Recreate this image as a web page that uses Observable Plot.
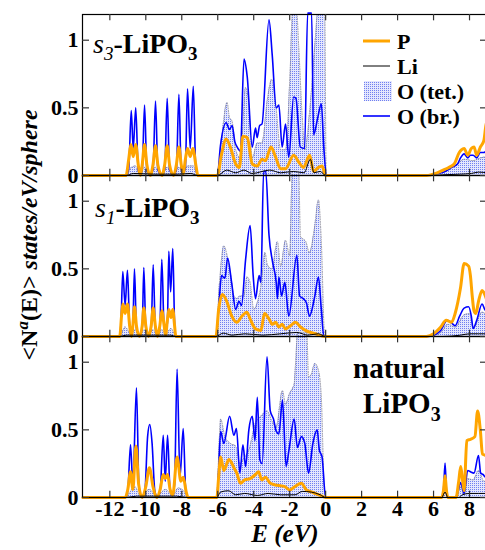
<!DOCTYPE html>
<html><head><meta charset="utf-8">
<script src="https://cdn.jsdelivr.net/npm/d3@7"></script>
<script src="https://cdn.jsdelivr.net/npm/@observablehq/plot@0.6"></script>
<style>body{margin:0;background:#fff;overflow:hidden}</style>
</head><body><div id="chart"></div>
<script>
const panels = ["s3", "s1", "natural"];
const xTicks = [-12, -10, -8, -6, -4, -2, 0, 2, 4, 6, 8];
const yTicks = [0, 0.5, 1];
const legendLabels = ["P", "Li", "O (tet.)", "O (br.)"];

// ---- panel s3 ----
const s3_Obr = [[-13.5,0],[-11.1,0],[-10.95,0.05],[-10.81,0.48],[-10.7,0.2],[-10.56,0.5],[-10.42,0.04],[-10.3,0.01],[-10.2,0.04],[-10.07,0.52],[-9.94,0.04],[-9.75,0.01],[-9.6,0.04],[-9.46,0.55],[-9.33,0.04],[-9.1,0.01],[-8.95,0.04],[-8.81,0.57],[-8.68,0.04],[-8.45,0.01],[-8.3,0.04],[-8.16,0.6],[-8.03,0.04],[-7.92,0.02],[-7.8,0.06],[-7.68,0.64],[-7.53,0.2],[-7.36,0.66],[-7.22,0.05],[-7.1,0],[-6.02,0],[-5.85,0.22],[-5.53,0.39],[-5.35,0.34],[-5.2,0.37],[-5.05,0.25],[-4.92,0.21],[-4.74,0.18],[-4.54,0.86],[-4.36,0.73],[-4.08,0.21],[-3.9,0.35],[-3.81,0.28],[-3.67,0.37],[-3.54,0.38],[-3.15,1.15],[-2.97,0.89],[-2.75,0.5],[-2.6,0.52],[-2.42,0.21],[-2.23,0.38],[-2.05,0.135],[-1.78,0.58],[-1.65,0.57],[-1.41,0.21],[-1.17,0.2],[-1.0,1.2],[-0.78,1.2],[-0.67,0.3],[-0.45,0.42],[-0.24,0.53],[-0.1,0.2],[0.05,0],[5.6,0],[6.2,0.015],[6.58,0.025],[7.0,0.06],[7.33,0.085],[7.5,0.13],[7.7,0.16],[7.9,0.13],[8.05,0.15],[8.2,0.15],[8.4,0.13],[8.6,0.17],[8.8,0.17],[9,0.2]];
const s3_P = [[-13.5,0],[-11.1,0],[-10.95,0.12],[-10.83,0.23],[-10.7,0.14],[-10.56,0.23],[-10.42,0.08],[-10.3,0],[-10.2,0.08],[-10.07,0.23],[-9.94,0.08],[-9.75,0],[-9.6,0.08],[-9.46,0.22],[-9.33,0.08],[-9.1,0],[-8.95,0.08],[-8.81,0.22],[-8.68,0.08],[-8.45,0],[-8.3,0.08],[-8.16,0.21],[-8.03,0.08],[-7.92,0.01],[-7.8,0.12],[-7.68,0.2],[-7.53,0.14],[-7.38,0.2],[-7.22,0.08],[-7.1,0],[-6.02,0],[-5.8,0.15],[-5.53,0.27],[-5.3,0.21],[-5.0,0.085],[-4.8,0.06],[-4.6,0.29],[-4.36,0.28],[-4.08,0.085],[-3.8,0.07],[-3.54,0.12],[-3.35,0.11],[-3.04,0.21],[-2.78,0.135],[-2.5,0.05],[-2.23,0.05],[-1.78,0.15],[-1.5,0.1],[-1.23,0.06],[-0.89,0.15],[-0.67,0.03],[-0.4,0.06],[-0.2,0.07],[0,0],[5.6,0],[6.2,0.02],[6.7,0.05],[7.0,0.07],[7.15,0.085],[7.43,0.17],[7.55,0.19],[7.7,0.2],[7.9,0.15],[8.1,0.2],[8.25,0.21],[8.4,0.15],[8.6,0.21],[8.8,0.26],[8.9,0.36],[9,0.42]];
const s3_Otet = [[-13.5,0],[-11.1,0],[-10.8,0.06],[-10.56,0.07],[-10.4,0.01],[-10.07,0.06],[-9.8,0.01],[-9.46,0.06],[-9.15,0.01],[-8.81,0.06],[-8.5,0.01],[-8.16,0.06],[-7.9,0.01],[-7.68,0.07],[-7.36,0.07],[-7.1,0],[-6.02,0],[-5.8,0.25],[-5.48,0.54],[-5.35,0.43],[-5.2,0.4],[-5.0,0.19],[-4.74,0.13],[-4.45,0.65],[-4.27,0.52],[-4.08,0.13],[-3.8,0.24],[-3.54,0.24],[-3.24,0.56],[-3.0,0.71],[-2.8,0.56],[-2.5,0.19],[-2.23,0.19],[-1.95,0.85],[-1.85,1.19],[-1.6,1.19],[-1.5,0.96],[-1.3,0.43],[-1.15,0.19],[-0.87,0.5],[-0.6,0.96],[-0.45,1.19],[-0.05,1.19],[0.03,0],[5.6,0],[6.3,0.015],[6.8,0.04],[7.3,0.08],[7.7,0.12],[8.2,0.11],[8.6,0.13],[9,0.14]];
const s3_Li = [[-13.5,0],[-11.1,0],[-10.7,0.015],[-9.5,0.01],[-8.2,0.01],[-7.5,0.015],[-7.1,0],[-6.02,0],[-5.5,0.04],[-5.0,0.02],[-4.54,0.04],[-4.1,0.015],[-3.1,0.04],[-2.5,0.02],[-1.8,0.03],[-1.2,0.02],[-0.85,0.12],[-0.65,0.02],[-0.3,0.03],[0,0],[5.8,0],[6.5,0.005],[7.5,0.01],[8.1,0.015],[8.5,0.025],[9,0.02]];

// ---- panel s1 ----
const s1_Obr = [[-13.5,0],[-11.45,0],[-11.38,0.1],[-11.28,0.48],[-11.15,0.23],[-11.02,0.49],[-10.9,0.08],[-10.8,0.02],[-10.72,0.08],[-10.63,0.5],[-10.52,0.06],[-10.35,0.01],[-10.2,0.06],[-10.11,0.51],[-10.0,0.06],[-9.85,0.01],[-9.7,0.06],[-9.59,0.53],[-9.47,0.06],[-9.35,0.01],[-9.22,0.06],[-9.11,0.57],[-8.98,0.06],[-8.9,0.04],[-8.8,0.1],[-8.72,0.63],[-8.62,0.33],[-8.5,0.65],[-8.4,0.1],[-8.33,0],[-6.1,0],[-5.95,0.2],[-5.79,0.45],[-5.6,0.43],[-5.45,0.58],[-5.23,0.4],[-5.0,0.2],[-4.82,0.26],[-4.68,0.23],[-4.45,0.57],[-4.2,0.82],[-4.03,0.45],[-3.9,0.28],[-3.7,0.45],[-3.6,0.4],[-3.45,1.22],[-3.33,1.22],[-3.15,0.75],[-2.95,0.55],[-2.75,0.4],[-2.68,0.28],[-2.6,0.44],[-2.45,0.3],[-2.27,0.4],[-2.05,0.15],[-1.6,0.6],[-1.45,0.3],[-1.25,0.28],[-1.07,0.25],[-0.9,0.15],[-0.6,0.3],[-0.4,0.44],[-0.24,0.2],[-0.1,0],[5.6,0],[6.0,0.01],[6.4,0.045],[6.77,0.12],[7.0,0.1],[7.2,0.08],[7.45,0.15],[7.7,0.21],[7.95,0.22],[8.1,0.15],[8.2,0.06],[8.4,0.12],[8.7,0.24],[8.85,0.2],[9,0.18]];
const s1_P = [[-13.5,0],[-11.45,0],[-11.35,0.15],[-11.28,0.24],[-11.15,0.17],[-11.02,0.24],[-10.9,0.08],[-10.8,0],[-10.72,0.08],[-10.63,0.22],[-10.52,0.08],[-10.35,0],[-10.2,0.08],[-10.11,0.21],[-10.0,0.08],[-9.85,0],[-9.7,0.08],[-9.59,0.21],[-9.47,0.08],[-9.35,0],[-9.22,0.08],[-9.11,0.19],[-8.98,0.08],[-8.9,0.01],[-8.8,0.12],[-8.72,0.2],[-8.6,0.14],[-8.5,0.2],[-8.4,0.08],[-8.33,0],[-6.1,0],[-5.95,0.2],[-5.74,0.31],[-5.5,0.26],[-5.22,0.15],[-4.94,0.105],[-4.66,0.15],[-4.38,0.18],[-4.2,0.13],[-3.9,0.056],[-3.6,0.045],[-3.4,0.17],[-3.15,0.13],[-2.96,0.09],[-2.78,0.105],[-2.6,0.07],[-2.42,0.09],[-2.23,0.056],[-1.95,0.08],[-1.68,0.105],[-1.4,0.07],[-1.12,0.045],[-0.56,0.02],[-0.05,0],[5.6,0],[6.0,0.02],[6.4,0.07],[6.7,0.12],[7.0,0.105],[7.2,0.17],[7.5,0.36],[7.7,0.54],[7.95,0.52],[8.05,0.45],[8.15,0.3],[8.25,0.19],[8.35,0.17],[8.5,0.26],[8.7,0.34],[8.85,0.31],[9,0.25]];
const s1_Otet = [[-13.5,0],[-11.45,0],[-11.15,0.07],[-10.8,0.01],[-10.6,0.05],[-10.35,0.01],[-10.1,0.05],[-9.85,0.01],[-9.6,0.05],[-9.35,0.01],[-9.1,0.05],[-8.9,0.01],[-8.6,0.06],[-8.33,0],[-6.1,0],[-5.9,0.4],[-5.66,0.67],[-5.48,0.6],[-5.3,0.47],[-5.1,0.3],[-4.94,0.28],[-4.75,0.3],[-4.55,0.3],[-4.38,0.44],[-4.2,0.4],[-4.0,0.2],[-3.8,0.25],[-3.6,0.37],[-3.37,0.62],[-3.24,0.53],[-3.0,0.5],[-2.68,0.7],[-2.5,0.52],[-2.23,0.71],[-2.0,0.6],[-1.85,1.22],[-1.5,1.22],[-1.4,0.74],[-1.1,0.7],[-0.9,0.62],[-0.6,0.82],[-0.4,1.01],[-0.24,0.7],[-0.05,0],[5.6,0],[6.4,0.03],[6.8,0.09],[7.2,0.07],[7.7,0.16],[8.0,0.17],[8.2,0.06],[8.7,0.18],[9,0.15]];
const s1_Li = [[-13.5,0],[-11.45,0],[-11.1,0.01],[-9.5,0.01],[-8.6,0.01],[-8.33,0],[-6.1,0],[-5.7,0.025],[-5.2,0.01],[-4.5,0.02],[-3.5,0.01],[-2.5,0.02],[-1.6,0.03],[-1.0,0.01],[-0.4,0.02],[0,0],[6.5,0],[7.5,0.01],[8,0.02],[8.5,0.02],[9,0.02]];

// ---- panel natural ----
const nat_Obr = [[-13.5,0],[-11.15,0],[-11.0,0.05],[-10.85,0.39],[-10.72,0.1],[-10.52,0.81],[-10.38,0.08],[-10.2,0],[-10.05,0.05],[-9.9,0.45],[-9.78,0.54],[-9.65,0.4],[-9.5,0.05],[-9.35,0],[-9.2,0.05],[-9.03,0.46],[-8.92,0.12],[-8.79,0.46],[-8.65,0.05],[-8.5,0.02],[-8.4,0.1],[-8.26,0.95],[-8.1,0.15],[-7.92,0.51],[-7.78,0.05],[-7.65,0],[-6.05,0],[-5.95,0.2],[-5.84,0.49],[-5.66,0.4],[-5.34,0.6],[-5.1,0.46],[-4.96,0.51],[-4.77,0.18],[-4.6,0.39],[-4.45,0.23],[-4.27,0.5],[-4.08,0.6],[-3.93,0.42],[-3.8,0.74],[-3.66,0.28],[-3.53,0.25],[-3.26,1.04],[-3.08,0.64],[-2.9,0.58],[-2.75,0.49],[-2.6,0.47],[-2.4,0.72],[-2.2,0.23],[-2.04,0.35],[-1.75,0.58],[-1.57,0.37],[-1.35,0.45],[-1.16,0.4],[-0.95,0.18],[-0.71,0.4],[-0.47,0.5],[-0.35,0.35],[-0.2,0.3],[0,0],[6.45,0],[6.55,0.05],[6.64,0.255],[6.72,0.05],[6.8,0],[7.2,0],[7.35,0.04],[7.5,0.11],[7.7,0.03],[7.9,0.2],[8.05,0.19],[8.25,0.18],[8.5,0.31],[8.62,0.18],[8.75,0.17],[8.9,0.15],[9,0.17]];
const nat_P = [[-13.5,0],[-11.15,0],[-11.0,0.06],[-10.85,0.19],[-10.72,0.06],[-10.55,0.38],[-10.4,0.1],[-10.2,0],[-10.0,0.08],[-9.8,0.22],[-9.6,0.08],[-9.4,0],[-9.2,0.06],[-9.03,0.17],[-8.92,0.14],[-8.79,0.17],[-8.65,0.06],[-8.5,0.02],[-8.26,0.3],[-8.05,0.12],[-7.92,0.15],[-7.75,0.04],[-7.65,0],[-6.05,0],[-5.95,0.15],[-5.84,0.3],[-5.66,0.2],[-5.38,0.28],[-5.1,0.22],[-4.94,0.18],[-4.74,0.105],[-4.5,0.13],[-4.2,0.14],[-3.9,0.17],[-3.73,0.19],[-3.55,0.13],[-3.35,0.15],[-3.08,0.105],[-2.7,0.09],[-2.27,0.08],[-2.0,0.056],[-1.72,0.08],[-1.35,0.105],[-1.07,0.056],[-0.7,0.037],[-0.24,0.012],[0,0],[6.45,0],[6.55,0.05],[6.64,0.16],[6.72,0.05],[6.8,0],[7.25,0],[7.4,0.12],[7.51,0.23],[7.62,0.12],[7.7,0.05],[7.85,0.42],[8.05,0.43],[8.3,0.45],[8.45,0.64],[8.6,0.5],[8.72,0.32],[8.9,0.31],[9,0.29]];
const nat_Otet = [[-13.5,0],[-11.15,0],[-10.6,0.08],[-10.3,0.01],[-9.8,0.06],[-9.4,0.01],[-8.9,0.06],[-8.5,0.01],[-8.2,0.07],[-7.9,0.05],[-7.65,0],[-6.05,0],[-5.95,0.3],[-5.84,0.58],[-5.6,0.45],[-5.3,0.4],[-5.0,0.38],[-4.77,0.25],[-4.5,0.3],[-4.27,0.35],[-3.9,0.55],[-3.6,0.6],[-3.26,0.64],[-3.0,0.57],[-2.75,0.52],[-2.4,0.79],[-2.23,0.69],[-2.0,0.77],[-1.75,0.84],[-1.55,1.22],[-1.05,1.22],[-0.95,0.89],[-0.8,0.91],[-0.6,0.99],[-0.4,0.94],[-0.24,0.74],[-0.05,0],[6.45,0],[6.64,0.04],[6.8,0],[7.3,0],[7.5,0.08],[7.7,0.02],[7.9,0.14],[8.2,0.13],[8.5,0.2],[8.8,0.12],[9,0.12]];
const nat_Li = [[-13.5,0],[-11.15,0],[-10.5,0.01],[-8.3,0.01],[-7.65,0],[-6.05,0],[-5.85,0.04],[-5.4,0.05],[-5.0,0.02],[-4.5,0.03],[-3.8,0.015],[-3.2,0.03],[-2.5,0.02],[-1.7,0.02],[-1.3,0.045],[-0.8,0.04],[-0.3,0.02],[0,0],[6.45,0],[6.64,0.04],[6.8,0],[7.4,0],[7.6,0.02],[8,0.03],[8.5,0.03],[9,0.03]];

// build a tidy table from the arrays
const sources = [
  ["s3", "P", s3_P], ["s3", "Li", s3_Li], ["s3", "Otet", s3_Otet], ["s3", "Obr", s3_Obr],
  ["s1", "P", s1_P], ["s1", "Li", s1_Li], ["s1", "Otet", s1_Otet], ["s1", "Obr", s1_Obr],
  ["natural", "P", nat_P], ["natural", "Li", nat_Li], ["natural", "Otet", nat_Otet], ["natural", "Obr", nat_Obr]
];
const rows = [];
for (const [panel, series, arr] of sources) for (const [E, v] of arr) rows.push({panel, series, E, v});
const sel = s => rows.filter(d => d.series === s);

const W = 485, H = 550, mL = 82, mR = -2, mT = 13, mB = 52;
const facetH = (H - mT - mB) / 3, plotW = W - mL - mR;
const serif = "'Liberation Serif', 'Times New Roman', serif";

const chart = Plot.plot({
  width: W, height: H,
  marginLeft: mL, marginRight: mR, marginTop: mT, marginBottom: mB,
  style: {fontFamily: serif, fontSize: "22px", fontWeight: "bold", background: "white", color: "black", overflow: "visible"},
  x: {domain: [-13.52, 9]},
  y: {domain: [0, 1.19]},
  fy: {domain: panels, padding: 0, axis: null},
  marks: [
    Plot.areaY(sel("Otet"), {x: "E", y: "v", fy: "panel", fill: "url(#stip)", curve: "monotone-x"}),
    Plot.lineY(sel("Otet"), {x: "E", y: "v", fy: "panel", stroke: "#8a8a9a", strokeWidth: 0.9, strokeDasharray: "1,1.5", curve: "monotone-x"}),
    Plot.lineY(sel("Obr"), {x: "E", y: "v", fy: "panel", stroke: "#0000ff", strokeWidth: 1.6, curve: "monotone-x"}),
    Plot.lineY(sel("P"), {x: "E", y: "v", fy: "panel", stroke: "#ffa500", strokeWidth: 3, curve: "monotone-x"}),
    Plot.lineY(sel("Li"), {x: "E", y: "v", fy: "panel", stroke: "#000", strokeWidth: 1, curve: "monotone-x"}),
    Plot.frame({stroke: "black", strokeWidth: 1.2}),
    Plot.tickX(xTicks, {x: d => d, insetTop: facetH - 7, stroke: "#333", strokeWidth: 1.2}),
    Plot.tickX(xTicks, {x: d => d, insetBottom: facetH - 7, stroke: "#333", strokeWidth: 1.2}),
    Plot.tickY(yTicks, {y: d => d, insetRight: plotW - 7, stroke: "#333", strokeWidth: 1.2}),
    Plot.tickY(yTicks, {y: d => d, insetLeft: plotW - 7, stroke: "#333", strokeWidth: 1.2}),
    Plot.axisY({ticks: yTicks, tickFormat: d => String(d), tickSize: 0, tickPadding: 4, label: null, anchor: "left"}),
    Plot.axisX({ticks: xTicks, tickFormat: d => String(d), tickSize: 0, tickPadding: 3, label: null, anchor: "bottom"})
  ]
});
document.getElementById("chart").appendChild(chart);

const svg = d3.select(chart);
const defs = svg.insert("defs", ":first-child");
const pat = defs.append("pattern").attr("id", "stip").attr("patternUnits", "userSpaceOnUse").attr("width", 2).attr("height", 2);
pat.append("rect").attr("width", 2).attr("height", 2).attr("fill", "#e4e7fd");
pat.append("rect").attr("width", 1).attr("height", 1).attr("fill", "#7080f0");

function rich(x, y, size, parts, anchor) {
  const t = svg.append("text").attr("x", x).attr("y", y).attr("font-family", serif).attr("font-size", size)
    .attr("font-weight", "bold").attr("fill", "black").attr("text-anchor", anchor || "start");
  for (const p of parts) {
    const s = t.append("tspan").text(p.t);
    if (p.italic) s.attr("font-style", "italic");
    if (p.normal) s.attr("font-weight", "normal");
    if (p.size) s.attr("font-size", p.size);
    if (p.dy) s.attr("dy", p.dy);
  }
  return t;
}
// panel labels
rich(93, 53, 28, [{t: "s", italic: true, normal: true}, {t: "3", italic: true, normal: true, size: 19, dy: 7}, {t: "-LiPO", dy: -7}, {t: "3", size: 19, dy: 7}]);
rich(95, 217, 28, [{t: "s", italic: true, normal: true}, {t: "1", italic: true, normal: true, size: 19, dy: 7}, {t: "-LiPO", dy: -7}, {t: "3", size: 19, dy: 7}]);
rich(353, 378, 29, [{t: "natural"}]);
rich(363, 413, 29, [{t: "LiPO"}, {t: "3", size: 20, dy: 8}]);

// axis titles
rich(285, 542, 25, [{t: "E (eV)", italic: true}], "middle");
rich(0, 0, 24, [{t: "<N"}, {t: "a", italic: true, size: 17, dy: -9}, {t: "(E)>", dy: 9}, {t: " states/eV/sphere", italic: true}], "middle")
  .attr("transform", "translate(37,235) rotate(-90)");

// legend
const lg = svg.append("g");
const ly = [41, 66, 91, 116];
lg.append("line").attr("x1", 363).attr("x2", 390).attr("y1", ly[0]).attr("y2", ly[0]).attr("stroke", "#ffa500").attr("stroke-width", 3);
lg.append("line").attr("x1", 363).attr("x2", 390).attr("y1", ly[1]).attr("y2", ly[1]).attr("stroke", "#000").attr("stroke-width", 1);
lg.append("rect").attr("x", 364).attr("y", ly[2] - 10).attr("width", 28).attr("height", 20).attr("fill", "url(#stip)");
lg.append("line").attr("x1", 363).attr("x2", 390).attr("y1", ly[3]).attr("y2", ly[3]).attr("stroke", "#0000ff").attr("stroke-width", 1.6);
legendLabels.forEach((l, i) => {
  lg.append("text").attr("x", 397).attr("y", ly[i]).attr("dy", "0.35em").attr("text-anchor", "start").attr("font-family", serif)
    .attr("font-size", 22).attr("font-weight", "bold").attr("fill", "black").text(l);
});
</script>
</body></html>
